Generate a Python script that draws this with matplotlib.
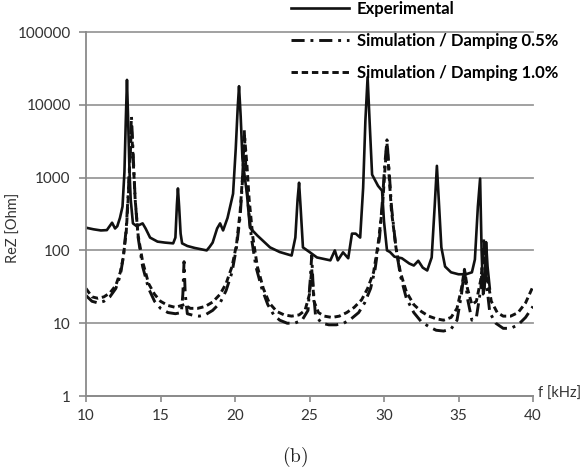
import numpy as np
import matplotlib
matplotlib.use("Agg")
import matplotlib.pyplot as plt

exp_f = [10.0, 10.5, 11.0, 11.4, 11.75, 11.95, 12.1, 12.28, 12.45, 12.58, 12.67, 12.75,
         12.83, 12.92, 13.0, 13.15, 13.4, 13.6, 13.8, 14.0, 14.3, 14.8, 15.3, 15.85,
         16.0, 16.1, 16.17, 16.25, 16.35, 16.45, 16.8, 17.3, 18.1, 18.3, 18.5, 18.8,
         19.0, 19.2, 19.5, 19.87, 20.05, 20.18, 20.27, 20.38, 20.5, 20.8, 21.0, 21.5,
         22.35, 23.0, 23.8, 24.05, 24.2, 24.3, 24.4, 24.56, 25.0, 25.5, 26.4, 26.7,
         26.9, 27.25, 27.6, 27.85, 28.1, 28.4, 28.6, 28.75, 28.9, 29.05, 29.2, 29.6,
         29.87, 30.0, 30.2, 30.4, 30.7, 31.2, 31.7, 32.0, 32.3, 32.6, 32.9, 33.2,
         33.4, 33.55, 33.7, 33.85, 34.1, 34.5, 35.0, 35.5, 35.9, 36.1, 36.3, 36.45,
         36.55, 36.65, 36.75, 36.85, 36.95, 37.1]
exp_z = [205, 195, 188, 190, 240, 200, 215, 280, 400, 1200, 6000, 22000,
         6000, 1200, 500, 235, 215, 225, 235, 200, 150, 132, 128, 125,
         150, 420, 710, 400, 170, 125, 115, 108, 100, 112, 128, 200,
         235, 188, 280, 600, 2500, 9000, 18000, 7000, 1800, 600, 205, 160,
         110, 95, 85, 150, 500, 850, 400, 110, 95, 80, 73, 100,
         73, 94, 78, 170, 170, 150, 720, 6000, 24000, 5000, 1100, 770,
         660, 250, 100, 95, 82, 78, 66, 62, 72, 58, 53, 80,
         400, 1450, 400, 110, 60, 50, 47, 47, 50, 75, 400, 970,
         100, 25, 30, 130, 60, 30]

sim05_f = [10.0, 10.4, 10.8, 11.2, 11.6, 12.0, 12.3, 12.5, 12.7, 12.85, 12.95, 13.05,
           13.15, 13.3, 13.5, 13.8, 14.2, 14.6, 15.0, 15.5, 16.0, 16.4, 16.5, 16.58,
           16.66, 16.8, 17.2, 17.6, 18.0, 18.5, 19.0, 19.4, 19.8, 20.1, 20.35, 20.5,
           20.62, 20.72, 20.85, 21.1, 21.4, 21.8, 22.2, 22.6, 23.0, 23.5, 24.0, 24.5,
           24.9, 25.05, 25.15, 25.25, 25.4, 25.8, 26.3, 26.8, 27.3, 27.8, 28.3, 28.7,
           29.1, 29.4, 29.7, 29.9, 30.05, 30.2, 30.35, 30.5, 30.8, 31.1, 31.5, 32.0,
           32.5, 33.0, 33.5, 34.0, 34.5, 34.9, 35.2, 35.4, 35.6, 35.9, 36.2, 36.5,
           36.7, 36.85, 37.1, 37.5, 38.0, 38.5, 39.0, 39.5, 40.0]
sim05_z = [24, 20, 19, 20, 23, 30, 45, 80, 200, 700, 2000, 7000,
           2500, 500, 150, 60, 30, 20, 16, 14, 13.5, 14, 25, 70,
           25, 13.5, 12.8, 12.5, 13, 15, 19, 28, 50, 110, 300, 900,
           4500, 1500, 500, 150, 60, 30, 18, 13, 11, 10, 10, 11,
           15, 40, 85, 30, 13, 10, 9.5, 9.5, 10, 11.5, 14, 19,
           30, 55, 150, 500, 1500, 3300, 1200, 400, 110, 45, 22, 14,
           10.5, 9, 8, 7.8, 8.3, 11, 25, 55, 22, 11, 12, 30,
           150, 40, 14, 10, 8.5, 8.5, 9.5, 12, 17]

sim10_f = [10.0, 10.4, 10.8, 11.2, 11.6, 12.0, 12.3, 12.5, 12.7, 12.85, 12.95, 13.05,
           13.15, 13.3, 13.5, 13.8, 14.2, 14.6, 15.0, 15.5, 16.0, 16.6, 17.0, 17.5,
           18.0, 18.5, 19.0, 19.4, 19.8, 20.1, 20.35, 20.5, 20.65, 20.8, 20.95, 21.2,
           21.5, 21.9, 22.3, 22.8, 23.3, 23.8, 24.3, 24.7, 25.0, 25.15, 25.3, 25.6,
           26.0, 26.5, 27.0, 27.5, 28.0, 28.5, 28.9, 29.3, 29.6, 29.9, 30.05, 30.2,
           30.35, 30.5, 30.8, 31.1, 31.5, 32.0, 32.5, 33.0, 33.5, 34.0, 34.5, 34.9,
           35.2, 35.4, 35.6, 35.9, 36.2, 36.5, 36.7, 36.9, 37.2, 37.6, 38.0, 38.5,
           39.0, 39.5, 40.0]
sim10_z = [30, 23, 22, 23, 26, 33, 50, 80, 180, 600, 1800, 5000,
           2000, 500, 160, 70, 35, 25, 20, 17.5, 16.5, 18, 16, 16,
           17, 19.5, 25, 35, 60, 120, 350, 1000, 3500, 1500, 500, 150,
           60, 30, 19, 14.5, 13, 12.5, 13, 15, 25, 55, 20, 14,
           12.5, 12, 12.5, 14, 16.5, 21, 30, 50, 120, 400, 1200, 3000,
           1000, 350, 110, 50, 27, 18, 14.5, 12.5, 11.5, 11, 12, 16,
           30, 55, 30, 18, 20, 40, 100, 45, 20, 14, 12.5, 12.5,
           14, 19, 32]

xticks = [10, 15, 20, 25, 30, 35, 40]
yticks = [1, 10, 100, 1000, 10000, 100000]
ytick_labels = ["1", "10", "100", "1000", "10000", "100000"]

plt.rcParams['font.family'] = ['Lato', 'DejaVu Sans']
plt.rcParams['mathtext.fontset'] = 'cm'

fig = plt.figure(figsize=(5.85, 4.76), dpi=100)
ax = fig.add_axes([86/585, 1-396/476, (533-86)/585, (396-32)/476])

ink = '#111111'
ax.plot(exp_f, exp_z, color=ink, lw=1.9, label='Experimental')
ax.plot(sim05_f, sim05_z, color=ink, lw=2.1, dashes=(4.5, 2, 1, 2),
        label='Simulation / Damping 0.5%')
ax.plot(sim10_f, sim10_z, color=ink, lw=2.1, dashes=(2.2, 1.3),
        label='Simulation / Damping 1.0%')

ax.set_yscale('log')
ax.set_xlim(10, 40)
ax.set_ylim(1, 1e5)
ax.set_xticks(xticks)
ax.set_yticks(yticks)
ax.set_yticklabels(ytick_labels)
ax.minorticks_off()

ax.grid(axis='y', color='#9a9a9a', lw=1.3)
ax.set_axisbelow(True)
for gl in ax.get_ygridlines():
    gl.set_clip_on(False)

for s in ['top', 'right']:
    ax.spines[s].set_visible(False)
for s in ['left', 'bottom']:
    ax.spines[s].set_color('#8a8a8a')
    ax.spines[s].set_linewidth(1.3)
ax.tick_params(axis='x', direction='out', length=4, width=1.2, color='#8a8a8a',
               labelsize=11, labelcolor='#333333', pad=5)
ax.tick_params(axis='y', direction='out', length=5, width=1.2, color='#8a8a8a',
               labelsize=11, labelcolor='#333333', pad=6)

ax.text(1.012, 0.005, 'f [kHz]', transform=ax.transAxes, ha='left', va='center',
        fontsize=10.5, color='#333333')
fig.text(0.024, 1-228/476, 'ReZ [Ohm]', rotation=90, ha='center', va='center',
         fontsize=10.5, color='#333333')

fig.legend(loc='upper left', bbox_to_anchor=(291/585, 0.998), frameon=False,
           prop={'weight': 'bold', 'size': 12}, handlelength=3.5,
           handletextpad=0.45, labelspacing=0.95, borderpad=0, borderaxespad=0)

fig.text(295/585, 1-457/476, r'$\mathrm{(b)}$', ha='center', va='center',
         fontsize=14, color='#222222')

fig.savefig('out.png', dpi=100)
